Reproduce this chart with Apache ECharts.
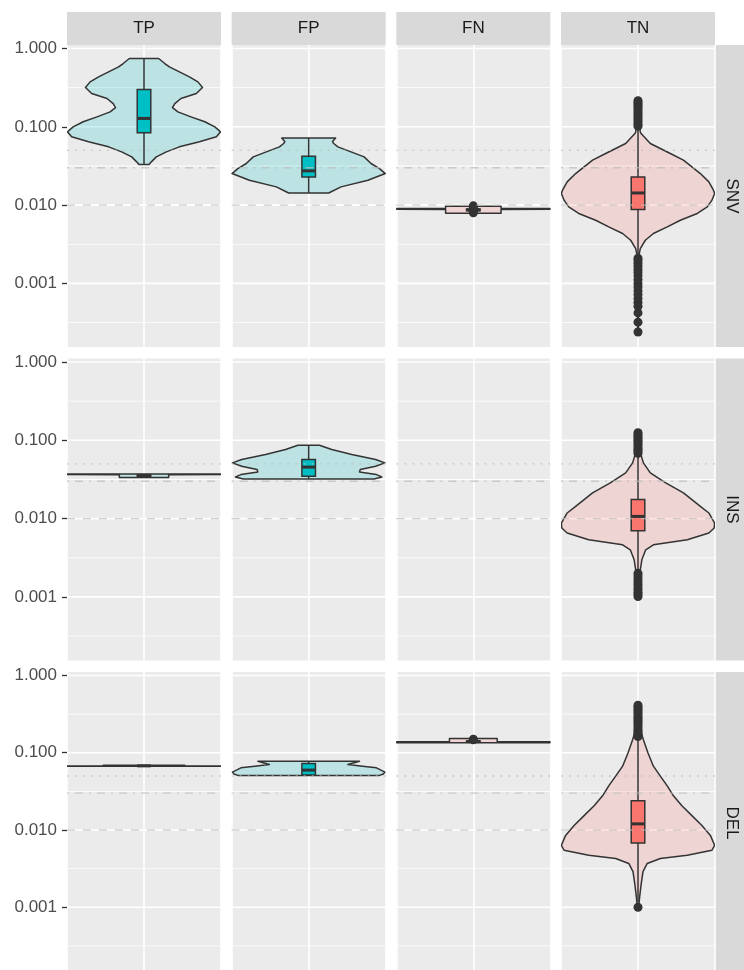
<!DOCTYPE html>
<html><head><meta charset="utf-8">
<script src="https://cdn.jsdelivr.net/npm/echarts@6/dist/echarts.min.js"></script>
<style>html,body{margin:0;padding:0;background:#fff}#c{width:744px;height:970px}</style>
</head><body><div id="c"></div>
<script>
// ---------------- data ----------------
const colLabels = ['TP', 'FP', 'FN', 'TN'];
const rowLabels = ['SNV', 'INS', 'DEL'];
const yTickValues = [0.001, 0.01, 0.1, 1];
const yTickLabels = ['0.001', '0.010', '0.100', '1.000'];
const yMinorValues = [0.000316, 0.00316, 0.0316, 0.316];
const refLineValues = [0.05, 0.03, 0.01]; // dotted, dot-dash, dashed

// violin profiles: [value, relative half-width]
const violin_TP_SNV = [[0.745,0.19],[0.643,0.27],[0.582,0.33],[0.503,0.46],[0.435,0.59],[0.375,0.70],[0.318,0.76],[0.266,0.68],[0.230,0.48],[0.198,0.40],[0.176,0.37],[0.155,0.44],[0.134,0.61],[0.116,0.79],[0.100,0.92],[0.0863,0.995],[0.0745,0.94],[0.0643,0.72],[0.0555,0.46],[0.0479,0.29],[0.0413,0.16],[0.0357,0.095],[0.0330,0.065]];
const violin_FP_SNV = [[0.0721,0.35],[0.0650,0.31],[0.0612,0.325],[0.0555,0.38],[0.0479,0.55],[0.0413,0.72],[0.0340,0.81],[0.0293,0.92],[0.0253,0.995],[0.0208,0.77],[0.0171,0.42],[0.0143,0.26]];
const violin_FN_SNV = [[0.0097,0.36],[0.0091,0.36],[0.00905,0.995],[0.00885,0.995],[0.0088,0.36],[0.0079,0.36]];
const violin_TN_SNV = [[0.215,0.008],[0.12,0.012],[0.086,0.03],[0.082,0.04],[0.0612,0.16],[0.0456,0.42],[0.0375,0.59],[0.0308,0.70],[0.0253,0.81],[0.0198,0.92],[0.0155,0.98],[0.01406,0.995],[0.01156,0.96],[0.00948,0.90],[0.00782,0.77],[0.00641,0.55],[0.00527,0.38],[0.00434,0.20],[0.00356,0.095],[0.00279,0.03],[0.00229,0.012],[0.0005,0.006],[0.00024,0.004]];
const violin_TP_INS = [[0.0371,0.995],[0.0366,0.995],[0.0364,0.32],[0.0334,0.32]];
const violin_FP_INS = [[0.0865,0.14],[0.0762,0.30],[0.0658,0.56],[0.0568,0.87],[0.0515,0.99],[0.0466,0.87],[0.0423,0.67],[0.0395,0.66],[0.0365,0.88],[0.0341,0.95],[0.0321,0.85]];
const violin_TN_INS = [[0.125,0.008],[0.075,0.015],[0.0692,0.03],[0.0515,0.07],[0.0384,0.16],[0.0286,0.36],[0.0213,0.59],[0.01746,0.70],[0.01432,0.81],[0.0118,0.92],[0.00879,0.995],[0.00759,0.99],[0.00655,0.92],[0.00537,0.64],[0.00463,0.20],[0.0040,0.10],[0.00298,0.05],[0.00222,0.03],[0.00103,0.01]];
const violin_TP_DEL = [[0.0690,0.53],[0.0680,0.53],[0.0676,0.995],[0.0668,0.995]];
const violin_FP_DEL = [[0.0776,0.66],[0.0704,0.51],[0.0670,0.70],[0.0638,0.88],[0.0561,0.99],[0.0530,0.97],[0.0509,0.92]];
const violin_FN_DEL = [[0.153,0.31],[0.1395,0.31],[0.1385,0.995],[0.1350,0.995]];
const violin_TN_DEL = [[0.413,0.008],[0.25,0.015],[0.198,0.03],[0.147,0.07],[0.0993,0.13],[0.067,0.20],[0.0499,0.29],[0.0372,0.38],[0.0277,0.46],[0.0206,0.57],[0.01535,0.70],[0.01143,0.83],[0.00851,0.94],[0.00634,0.995],[0.00547,0.96],[0.00471,0.64],[0.00428,0.29],[0.00369,0.12],[0.00289,0.065],[0.00195,0.04],[0.00132,0.02],[0.00103,0.01]];

// boxplots: [lower whisker, Q1, median, Q3, upper whisker]
const box_TP_SNV = [0.033, 0.084, 0.128, 0.300, 0.745];
const box_FP_SNV = [0.0143, 0.0229, 0.0274, 0.042, 0.0721];
const box_FN_SNV = [0.0082, 0.0085, 0.0087, 0.0089, 0.0093];
const box_TN_SNV = [0.0022, 0.00879, 0.0143, 0.0229, 0.096];
const box_TP_INS = [0.0334, 0.0348, 0.0356, 0.0364, 0.0371];
const box_FP_INS = [0.0321, 0.0347, 0.0455, 0.0568, 0.0865];
const box_TN_INS = [0.0021, 0.0070, 0.01067, 0.0175, 0.066];
const box_TP_DEL = [0.0668, 0.0672, 0.0676, 0.0680, 0.0690];
const box_FP_DEL = [0.0509, 0.0515, 0.0596, 0.0724, 0.0776];
const box_FN_DEL = [0.135, 0.138, 0.1395, 0.142, 0.146];
const box_TN_DEL = [0.00115, 0.0068, 0.012, 0.0239, 0.155];

// outliers
const out_FN_SNV = [0.0080, 0.0083, 0.0094, 0.0098];
const out_TN_SNV = [0.215,0.205,0.195,0.185,0.175,0.165,0.155,0.146,0.138,0.130,0.122,0.115,0.108,0.102,
  0.00210,0.00195,0.00180,0.00165,0.00150,0.00138,0.00125,0.00112,0.00100,0.00090,0.00080,0.00072,0.00064,0.00057,0.00051,0.00042,0.00032,0.00024];
const out_TN_INS = [0.125,0.118,0.112,0.106,0.100,0.095,0.090,0.085,0.080,0.076,0.072,0.068,
  0.00200,0.00185,0.00170,0.00157,0.00145,0.00134,0.00124,0.00115,0.00108,0.00101];
const out_FN_DEL = [0.147, 0.150];
const out_TN_DEL = [0.413,0.39,0.37,0.35,0.33,0.31,0.29,0.275,0.26,0.245,0.23,0.215,0.20,0.19,0.18,0.17,0.162, 0.00100];

// ---------------- tables built from the arrays ----------------
const violins = {TP_SNV:violin_TP_SNV, FP_SNV:violin_FP_SNV, FN_SNV:violin_FN_SNV, TN_SNV:violin_TN_SNV,
  TP_INS:violin_TP_INS, FP_INS:violin_FP_INS, FN_INS:null, TN_INS:violin_TN_INS,
  TP_DEL:violin_TP_DEL, FP_DEL:violin_FP_DEL, FN_DEL:violin_FN_DEL, TN_DEL:violin_TN_DEL};
const boxes = {TP_SNV:box_TP_SNV, FP_SNV:box_FP_SNV, FN_SNV:box_FN_SNV, TN_SNV:box_TN_SNV,
  TP_INS:box_TP_INS, FP_INS:box_FP_INS, FN_INS:null, TN_INS:box_TN_INS,
  TP_DEL:box_TP_DEL, FP_DEL:box_FP_DEL, FN_DEL:box_FN_DEL, TN_DEL:box_TN_DEL};
const outliers = {FN_SNV:out_FN_SNV, TN_SNV:out_TN_SNV, TN_INS:out_TN_INS, FN_DEL:out_FN_DEL, TN_DEL:out_TN_DEL};

// ---------------- styling / layout ----------------
const FONT = '"Liberation Sans", Arial, Helvetica, sans-serif';
const panelLefts = [67, 231.67, 396.33, 561];
const panelTops = [45, 358.5, 672];
const PW = 154, PH = 302;
const Y_MIN = -3.812, Y_MAX = 0.045;
const fills = {TP:['rgba(0,191,196,0.2)','#00BFC4'], FP:['rgba(0,191,196,0.2)','#00BFC4'],
               FN:['rgba(248,118,109,0.2)','#F8766D'], TN:['rgba(248,118,109,0.2)','#F8766D']};
const BOX_HW = 0.088;
const OUT = '#333333';

const grids = [], xAxes = [], yAxes = [], series = [], graphics = [];
const L = v => Math.log10(v);

rowLabels.forEach((rl, r) => {
  colLabels.forEach((cl, c) => {
    const idx = r * 4 + c;
    const key = cl + '_' + rl;
    grids.push({left: panelLefts[c], top: panelTops[r], width: PW, height: PH, show: true,
      backgroundColor: '#EBEBEB', borderWidth: 0});
    xAxes.push({type: 'value', gridIndex: idx, min: -1, max: 1, interval: 1, show: true,
      axisLine: {show: false}, axisTick: {show: false}, axisLabel: {show: false},
      splitLine: {show: true, lineStyle: {color: '#FFFFFF', width: 1.6}}});
    const yA = {type: 'value', gridIndex: idx, min: Y_MIN, max: Y_MAX,
      splitLine: {show: false}, axisLine: {show: false, onZero: false}, axisTick: {show: false}, axisLabel: {show: false}};
    if (c === 0) {
      const tv = yTickValues.map(L);
      yA.axisTick = {show: true, customValues: tv, length: 5, lineStyle: {color: '#333333', width: 1.3}};
      yA.axisLabel = {show: true, customValues: tv, margin: 10, fontSize: 17, color: '#4D4D4D', fontFamily: FONT,
        formatter: v => { const i = tv.findIndex(t => Math.abs(t - v) < 1e-6); return i >= 0 ? yTickLabels[i] : ''; }};
    }
    yAxes.push(yA);

    // horizontal grid lines
    series.push({type: 'custom', xAxisIndex: idx, yAxisIndex: idx, z: 1, silent: true, data: [[0, 0]],
      renderItem: (p, api) => {
        const ch = [];
        const x0 = api.coord([-1, 0])[0], x1 = api.coord([1, 0])[0];
        yMinorValues.forEach(v => { const y = api.coord([0, L(v)])[1];
          ch.push({type: 'rect', shape: {x: x0, y: y - 0.4, width: x1 - x0, height: 0.8}, style: {fill: '#FFFFFF'}}); });
        yTickValues.forEach(v => { const y = api.coord([0, L(v)])[1];
          ch.push({type: 'rect', shape: {x: x0, y: y - 0.8, width: x1 - x0, height: 1.6}, style: {fill: '#FFFFFF'}}); });
        return {type: 'group', children: ch};
      }});

    // violin
    const prof = violins[key];
    if (prof) {
      series.push({type: 'custom', xAxisIndex: idx, yAxisIndex: idx, z: 2, silent: true, clip: true, data: [[0, 0]],
        renderItem: (p, api) => {
          const right = [], left = [];
          prof.forEach(([v, w]) => { right.push(api.coord([w, L(v)])); left.push(api.coord([-w, L(v)])); });
          return {type: 'polygon', shape: {points: right.concat(left.reverse())},
            style: {fill: fills[cl][0], stroke: '#333333', lineWidth: 1.5, lineJoin: 'round'}};
        }});
    }
    // boxplot
    const b = boxes[key];
    if (b) {
      series.push({type: 'custom', xAxisIndex: idx, yAxisIndex: idx, z: 3, silent: true, data: [[0, 0]],
        renderItem: (p, api) => {
          const [lo, q1, md, q3, hi] = b.map(L);
          const pLo = api.coord([0, lo]), pHi = api.coord([0, hi]);
          const a = api.coord([-BOX_HW, q3]), d = api.coord([BOX_HW, q1]);
          const m1 = api.coord([-BOX_HW, md]), m2 = api.coord([BOX_HW, md]);
          return {type: 'group', children: [
            {type: 'line', shape: {x1: pLo[0], y1: pLo[1], x2: pHi[0], y2: pHi[1]}, style: {stroke: '#333333', lineWidth: 1.5}},
            {type: 'rect', shape: {x: a[0], y: a[1], width: d[0] - a[0], height: Math.max(d[1] - a[1], 0.5)},
              style: {fill: fills[cl][1], stroke: '#333333', lineWidth: 1.5}},
            {type: 'line', shape: {x1: m1[0], y1: m1[1], x2: m2[0], y2: m2[1]}, style: {stroke: '#333333', lineWidth: 3}}
          ]};
        }});
    }
    // outliers
    const o = outliers[key];
    if (o) {
      series.push({type: 'scatter', xAxisIndex: idx, yAxisIndex: idx, z: 4, silent: true, symbol: 'circle', symbolSize: 9,
        itemStyle: {color: OUT, opacity: 1}, data: o.map(v => [0, L(v)])});
    }
    // reference lines
    series.push({type: 'custom', xAxisIndex: idx, yAxisIndex: idx, z: 5, silent: true, data: [[0, 0]],
      renderItem: (p, api) => {
        const dashes = [[2, 6], [2, 6, 8, 6], [8, 8]];
        const x0 = api.coord([-1, 0])[0], x1 = api.coord([1, 0])[0];
        return {type: 'group', children: refLineValues.map((v, i) => { const y = api.coord([0, L(v)])[1];
          return {type: 'line', shape: {x1: x0, y1: y, x2: x1, y2: y},
            style: {stroke: 'rgba(190,190,190,0.75)', lineWidth: 1.3, lineDash: dashes[i]}}; })};
      }});
  });
});

// strips
colLabels.forEach((cl, c) => {
  graphics.push({type: 'rect', shape: {x: panelLefts[c], y: 12, width: PW, height: 33}, style: {fill: '#D9D9D9'}, silent: true});
  graphics.push({type: 'text', x: panelLefts[c] + PW / 2, y: 28.5, silent: true,
    style: {text: cl, align: 'center', verticalAlign: 'middle', fontSize: 17, fontFamily: FONT, fill: '#1A1A1A'}});
});
rowLabels.forEach((rl, r) => {
  graphics.push({type: 'rect', shape: {x: 715, y: panelTops[r], width: 33, height: PH}, style: {fill: '#D9D9D9'}, silent: true});
  graphics.push({type: 'text', x: 731.5, y: panelTops[r] + PH / 2, rotation: -Math.PI / 2, silent: true,
    style: {text: rl, align: 'center', verticalAlign: 'middle', fontSize: 17, fontFamily: FONT, fill: '#1A1A1A'}});
});

const chart = echarts.init(document.getElementById('c'), null, {renderer: 'canvas'});
chart.setOption({
  animation: false,
  backgroundColor: '#FFFFFF',
  textStyle: {fontFamily: FONT},
  grid: grids, xAxis: xAxes, yAxis: yAxes, series: series, graphic: graphics
});
</script></body></html>
